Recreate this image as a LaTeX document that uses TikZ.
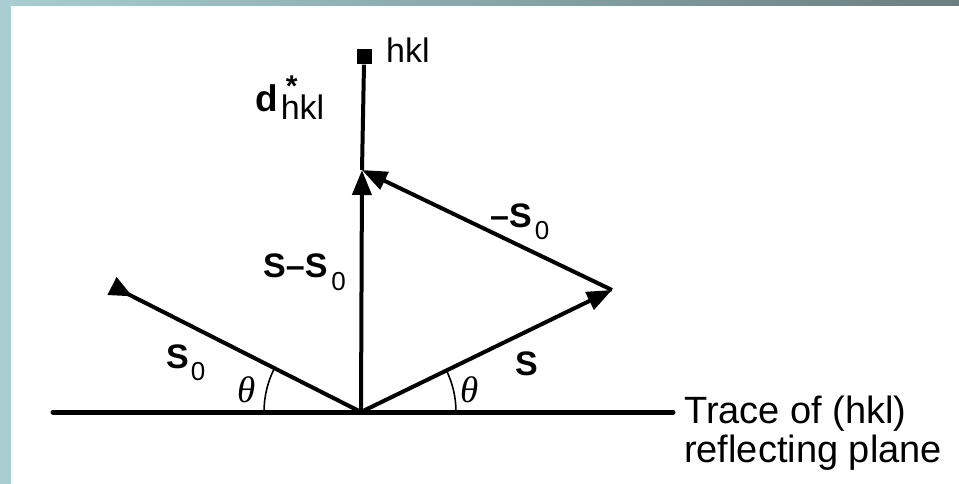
\RequirePackage{fix-cm}
\documentclass[tikz,border=0pt]{standalone}
\usepackage{fontspec}
\setmainfont{Liberation Sans}
\newfontfamily\thetafont{Liberation Serif}
\usetikzlibrary{arrows.meta}
\definecolor{stripL}{RGB}{168,206,210}
\definecolor{stripR}{RGB}{106,126,129}
\begin{document}
\begin{tikzpicture}[x=1pt,y=-1pt,
  vec/.style={line width=4pt},
  tiphead/.style={-{Triangle[length=25pt,width=19pt]}},
  tailhead/.style={{Triangle[length=23pt,width=19pt,reversed]}-},
  lab/.style={inner sep=0pt, anchor=base west},
  big/.style={font=\bfseries\fontsize{34}{34}\selectfont},
  mid/.style={font=\fontsize{34}{34}\selectfont},
  plain/.style={font=\fontsize{38}{39}\selectfont},
  ang/.style={font=\thetafont\itshape\fontsize{37}{37}\selectfont}]
\useasboundingbox (0,0) rectangle (959,484);
\fill[white] (0,0) rectangle (959,484);
\fill[stripL] (0,0) rectangle (11,484);
\shade[left color=stripL, right color=stripR] (0,0) rectangle (959,6);

\coordinate (O) at (361,412);
\coordinate (A) at (112,286);
\coordinate (B) at (612,290);
\coordinate (C) at (362,170);
\coordinate (pl) at (53,412);
\coordinate (pr) at (673,412);
\node[fill, minimum size=15pt, inner sep=0pt] (hklpt) at (364,57) {};

% angle arcs
\draw[line width=1.6pt] (O) ++(180:97) arc[start angle=180, end angle=206.8, radius=97];
\draw[line width=1.6pt] (O) ++(0:95) arc[start angle=0, end angle=-26, radius=95];

% plane trace
\draw[line width=5pt, line cap=round] (pl) -- (pr);

% vectors
\draw[vec] (C) -- (hklpt.south);
\draw[vec, tiphead] (O) -- (C);
\draw[vec, tiphead] (B) -- (C);
\draw[vec, tiphead] (O) -- (B);
\draw[vec, tailhead] (A) -- (O);

% labels
\node[lab, mid] (hkltop) at (386,63) {hkl};
\node[lab, mid] (dlab) at (255,112) {{\bfseries\fontsize{37}{37}\selectfont d}\kern3pt\rlap{\kern5pt\raisebox{15pt}{\bfseries\fontsize{30}{30}\selectfont *}}\raisebox{-8pt}{hkl}};
\node[lab, big] (diff) at (263,277) {S–S\kern4pt\raisebox{-13pt}{\mdseries\fontsize{26}{26}\selectfont 0}};
\node[lab, big] (negs) at (490,227) {–S\kern3pt\raisebox{-13pt}{\mdseries\fontsize{26}{26}\selectfont 0}};
\node[lab, big] (szero) at (166,368) {S\kern2pt\raisebox{-12pt}{\mdseries\fontsize{26}{26}\selectfont 0}};
\node[lab, big] (sout) at (515,375) {S};
\node[lab, ang] (thl) at (237,402) {θ};
\node[lab, ang] (thr) at (460,402) {θ};
\node[lab, plain] (trace1) at (684,423) {Trace of (hkl)};
\node[lab, plain] (trace2) at (684,462) {reflecting plane};
\end{tikzpicture}
\end{document}
